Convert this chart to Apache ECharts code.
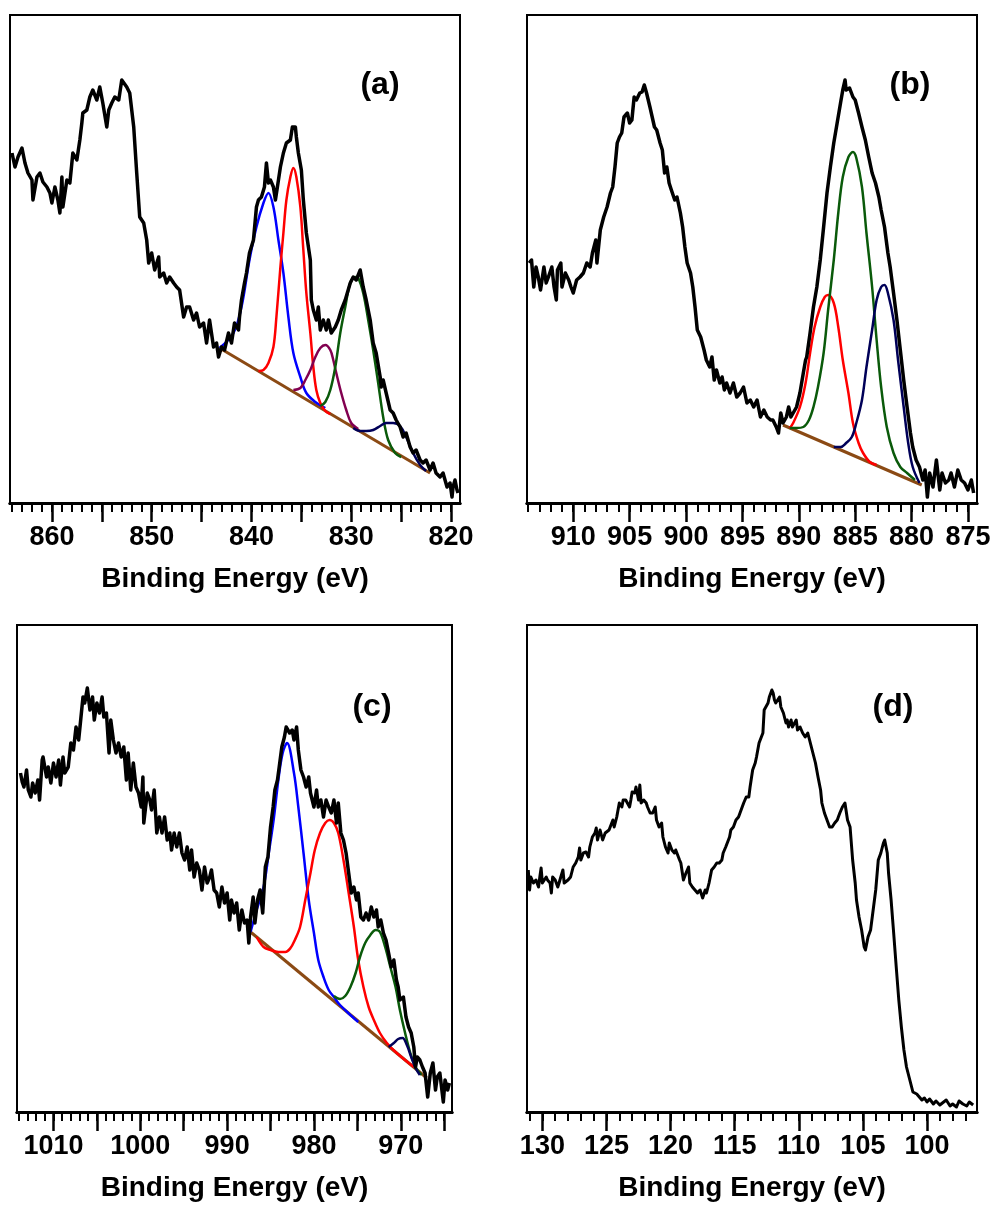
<!DOCTYPE html>
<html>
<head>
<meta charset="utf-8">
<title>XPS spectra</title>
<script src="https://cdn.jsdelivr.net/npm/echarts@6/dist/echarts.min.js"></script>
<style>
  html, body { margin: 0; padding: 0; background: #fff; }
  #chart { width: 997px; height: 1205px; }
</style>
</head>
<body>
<div id="chart"></div>
<script>
// ---------- data: [binding energy (eV), intensity (a.u.)] ----------

// (a)
var aSpectrum = [[864.0,350],[863.7,336],[863.4,346],[863.0,355],[862.7,340],[862.4,330],[862.0,323],[861.9,303],[861.5,326],[861.2,330],[860.9,321],[860.5,316],[860.2,310],[860.0,300],[859.7,316],[859.4,303],[859.2,290],[859.0,326],[858.9,296],[858.5,323],[858.2,320],[857.9,350],[857.5,343],[857.2,363],[857.0,380],[856.9,390],[856.5,393],[856.2,406],[855.9,413],[855.5,403],[855.2,416],[854.9,400],[854.5,376],[854.3,393],[854.0,400],[853.7,406],[853.3,403],[853.0,423],[852.8,425],[852.5,416],[852.2,410],[851.8,376],[851.5,330],[851.2,286],[850.8,280],[850.5,263],[850.3,240],[850.0,250],[849.7,233],[849.3,246],[849.2,226],[848.8,230],[848.5,220],[848.2,226],[847.8,220],[847.5,216],[847.2,213],[846.8,186],[846.5,196],[846.2,196],[845.8,183],[845.5,190],[845.2,176],[844.8,180],[844.5,160],[844.2,183],[843.8,156],[843.5,160],[843.3,146],[843.0,156],[842.7,153],[842.3,170],[842.0,160],[841.7,180],[841.3,173],[841.2,186],[841.0,203],[840.7,220],[840.5,230],[840.2,250],[839.8,263],[839.5,296],[839.3,303],[839.0,306],[838.7,316],[838.5,340],[838.3,320],[838.1,323],[837.8,316],[837.6,303],[837.4,316],[837.1,336],[836.8,350],[836.5,360],[836.1,363],[835.9,376],[835.6,376],[835.5,366],[835.3,350],[835.0,333],[834.8,303],[834.5,270],[834.1,243],[834.0,203],[833.8,193],[833.5,183],[833.3,196],[833.1,173],[832.8,183],[832.5,173],[832.3,183],[832.0,170],[831.6,176],[831.3,183],[831.0,193],[830.6,203],[830.1,220],[829.8,226],[829.5,223],[829.1,233],[828.8,216],[828.5,203],[828.1,183],[827.8,160],[827.5,150],[827.1,126],[827.0,116],[826.8,123],[826.5,110],[826.1,93],[825.8,90],[825.5,83],[825.1,76],[824.8,66],[824.5,70],[824.1,56],[823.8,50],[823.5,53],[823.1,43],[822.8,40],[822.5,43],[822.1,33],[821.8,40],[821.5,30],[821.1,26],[820.8,30],[820.4,16],[820.1,20],[819.9,6],[819.8,16],[819.6,23],[819.4,13],[819.3,10]];
var aBaseline = [[843.2,155],[822.1,30]];
var aPeakBlue = [[843.2,155],[841.8,170],[841.0,196],[840.2,243],[839.5,276],[838.8,300],[838.3,310],[837.8,296],[837.3,263],[836.8,230],[836.3,186],[835.8,150],[835.1,126],[834.5,110],[833.6,101],[832.6,95]];
var aPeakRed = [[839.3,132],[838.8,133],[838.3,140],[837.8,156],[837.5,186],[837.1,236],[836.8,270],[836.5,303],[836.1,326],[835.8,335],[835.5,326],[835.1,296],[834.8,253],[834.5,210],[834.1,170],[833.8,136],[833.5,113],[833.1,100],[832.6,92],[832.1,89]];
var aPeakPurple = [[835.8,113],[835.1,115],[834.6,123],[834.1,133],[833.6,146],[833.1,155],[832.6,158],[832.1,153],[831.8,143],[831.5,130],[831.0,110],[830.5,93],[830.0,80],[829.3,74]];
var aPeakGreen = [[833.1,97],[832.6,101],[832.1,113],[831.6,136],[831.1,170],[830.6,196],[830.1,220],[829.6,226],[829.3,225],[828.8,210],[828.3,183],[827.8,153],[827.3,120],[826.8,86],[826.3,63],[825.6,50],[825.0,46]];
var aPeakNavy = [[829.8,75],[829.1,72],[828.5,72],[827.8,73],[827.1,77],[826.5,80],[825.8,80],[825.1,77],[824.5,66],[823.8,50],[823.1,38],[822.5,32]];
var aMajorTicks = [820, 825, 830, 835, 840, 845, 850, 855, 860];
var aTickLabels = [820, 830, 840, 850, 860];

// (b)
var bSpectrum = [[913.9,240],[913.7,243],[913.5,216],[913.3,236],[913.1,226],[912.9,213],[912.6,236],[912.4,220],[912.2,226],[911.9,236],[911.7,216],[911.5,203],[911.4,233],[911.1,240],[911.0,216],[910.7,230],[910.4,223],[910.2,216],[910.0,210],[909.7,223],[909.4,226],[909.1,230],[908.8,240],[908.5,236],[908.3,250],[908.0,263],[907.9,240],[907.6,273],[907.3,286],[907.0,296],[906.7,310],[906.5,316],[906.3,336],[906.1,360],[905.9,366],[905.7,370],[905.5,386],[905.2,390],[905.0,380],[904.8,383],[904.6,406],[904.4,403],[904.1,410],[903.9,411],[903.7,418],[903.5,410],[903.2,396],[903.0,386],[902.8,376],[902.6,373],[902.3,360],[902.1,353],[901.9,330],[901.7,336],[901.5,320],[901.3,313],[901.0,303],[900.8,306],[900.5,290],[900.3,276],[900.1,256],[899.9,240],[899.6,230],[899.4,216],[899.2,196],[899.0,173],[898.7,166],[898.4,153],[898.2,143],[897.9,136],[897.7,146],[897.5,123],[897.3,133],[897.0,120],[896.8,126],[896.6,113],[896.4,120],[896.1,110],[895.8,120],[895.5,106],[895.2,110],[894.9,116],[894.6,100],[894.3,103],[894.0,96],[893.7,103],[893.4,86],[893.1,93],[892.8,86],[892.5,83],[892.3,83],[892.0,76],[891.8,70],[891.6,90],[891.4,80],[891.1,86],[890.9,96],[890.7,86],[890.5,90],[890.2,96],[889.9,110],[889.6,130],[889.4,143],[889.3,146],[889.0,170],[888.7,196],[888.4,216],[888.1,243],[887.8,276],[887.5,310],[887.2,336],[886.9,360],[886.6,380],[886.3,400],[886.1,413],[885.9,423],[885.8,413],[885.5,415],[885.2,406],[885.0,403],[884.7,390],[884.4,376],[884.1,363],[883.8,346],[883.5,330],[883.2,320],[882.9,306],[882.7,293],[882.4,276],[882.1,250],[881.9,236],[881.6,210],[881.3,183],[881.0,153],[880.7,123],[880.4,96],[880.1,70],[879.9,56],[879.6,43],[879.3,36],[879.0,23],[878.8,33],[878.6,6],[878.4,30],[878.1,16],[877.8,43],[877.5,13],[877.3,30],[877.0,20],[876.7,23],[876.5,30],[876.2,16],[875.9,33],[875.6,23],[875.3,20],[875.0,13],[874.7,23],[874.5,10]];
var bBaseline = [[891.4,78],[879.1,18]];
var bPeakRed = [[890.8,75],[890.5,80],[889.9,96],[889.4,120],[889.0,150],[888.6,176],[888.1,196],[887.7,206],[887.4,208],[886.9,200],[886.5,176],[886.1,143],[885.6,110],[885.2,80],[884.7,60],[884.3,50],[883.7,41],[883.1,38]];
var bPeakGreen = [[890.8,75],[890.2,75],[889.6,76],[889.1,83],[888.7,96],[888.3,116],[887.8,150],[887.4,193],[886.9,243],[886.5,290],[886.1,326],[885.6,346],[885.2,351],[884.9,345],[884.4,316],[884.0,270],[883.5,216],[883.1,163],[882.7,116],[882.2,76],[881.6,50],[881.0,36],[880.4,30],[879.7,23]];
var bPeakNavy = [[886.9,56],[886.3,56],[885.8,60],[885.3,66],[884.9,80],[884.4,103],[884.0,136],[883.5,173],[883.1,203],[882.7,216],[882.4,218],[882.1,210],[881.6,183],[881.2,143],[880.7,96],[880.3,60],[879.9,36],[879.3,20]];
var bMajorTicks = [875, 880, 885, 890, 895, 900, 905, 910];
var bTickLabels = [875, 880, 885, 890, 895, 900, 905, 910];

// (c)
var cSpectrum = [[1013.8,339],[1013.6,330],[1013.4,325],[1013.1,342],[1012.9,322],[1012.6,315],[1012.4,329],[1012.1,319],[1011.8,332],[1011.6,312],[1011.3,352],[1011.2,355],[1010.8,335],[1010.6,345],[1010.3,329],[1010.0,349],[1009.7,335],[1009.4,352],[1009.2,327],[1008.9,355],[1008.7,339],[1008.3,345],[1008.0,369],[1007.7,362],[1007.4,385],[1007.1,372],[1006.9,389],[1006.6,415],[1006.4,409],[1006.1,424],[1005.8,402],[1005.5,415],[1005.3,392],[1005.0,409],[1004.7,399],[1004.4,415],[1004.2,395],[1003.9,399],[1003.6,359],[1003.4,392],[1003.1,372],[1002.8,359],[1002.5,369],[1002.2,355],[1001.9,365],[1001.6,332],[1001.4,359],[1001.1,322],[1000.8,349],[1000.5,325],[1000.2,319],[999.9,305],[999.7,335],[999.6,289],[999.2,319],[998.9,312],[998.7,302],[998.4,322],[998.1,279],[997.8,295],[997.5,279],[997.2,295],[996.9,272],[996.6,279],[996.4,262],[996.1,279],[995.8,265],[995.5,279],[995.2,259],[994.9,252],[994.6,265],[994.3,242],[994.1,262],[993.8,235],[993.5,249],[993.2,242],[992.9,222],[992.6,245],[992.3,229],[992.0,235],[991.8,242],[991.5,222],[991.2,219],[990.9,205],[990.6,225],[990.3,209],[990.0,219],[989.7,192],[989.5,212],[989.2,199],[988.9,209],[988.6,182],[988.3,202],[988.0,189],[987.7,192],[987.5,169],[987.3,195],[987.0,215],[986.8,189],[986.5,212],[986.2,222],[985.9,199],[985.6,245],[985.3,255],[985.0,285],[984.7,305],[984.5,322],[984.2,332],[984.0,345],[983.7,365],[983.4,375],[983.2,385],[983.0,387],[982.8,379],[982.5,382],[982.3,372],[982.0,385],[981.8,362],[981.5,342],[981.2,335],[980.9,325],[980.6,335],[980.4,319],[980.0,305],[979.7,322],[979.5,305],[979.2,312],[978.9,295],[978.6,312],[978.3,305],[978.0,299],[977.7,312],[977.4,289],[977.2,309],[976.9,279],[976.6,272],[976.3,259],[976.0,239],[975.7,219],[975.4,225],[975.1,212],[974.9,219],[974.6,195],[974.3,192],[974.0,199],[973.7,192],[973.4,205],[973.1,195],[972.8,202],[972.6,185],[972.3,192],[972.0,179],[971.7,172],[971.4,159],[971.1,145],[970.8,152],[970.5,132],[970.3,125],[970.1,112],[969.7,115],[969.4,95],[969.1,85],[968.8,79],[968.5,65],[968.3,45],[968.1,55],[967.8,52],[967.5,45],[967.2,39],[966.9,15],[966.6,39],[966.3,49],[966.0,22],[965.8,35],[965.5,39],[965.1,10],[964.9,32],[964.6,22],[964.4,29]];
var cBaseline = [[987.3,180],[967.0,34]];
var cPeakBlue = [[987.3,180],[986.6,202],[985.8,225],[985.2,259],[984.6,295],[984.1,332],[983.6,359],[983.1,369],[982.3,339],[981.8,305],[981.2,259],[980.6,212],[980.0,179],[979.5,152],[978.9,135],[978.3,122],[977.7,115],[977.0,107],[975.8,97],[974.9,90]];
var cPeakRed = [[986.6,175],[985.8,165],[985.0,162],[984.1,160],[983.3,160],[982.7,164],[982.2,172],[981.6,185],[981.0,212],[980.4,239],[979.9,262],[979.3,279],[978.7,289],[978.2,292],[977.7,289],[977.2,279],[976.6,252],[976.0,219],[975.4,185],[974.9,152],[974.3,125],[973.7,105],[973.1,92],[972.4,79],[971.6,69],[970.6,60],[968.5,45]];
var cPeakGreen = [[977.7,116],[977.0,113],[976.4,116],[975.8,125],[975.2,139],[974.7,155],[974.1,169],[973.5,177],[972.9,182],[972.4,180],[971.8,165],[971.2,145],[970.6,125],[970.1,102],[969.5,79],[968.9,59],[968.3,45],[967.6,37]];
var cPeakNavy = [[971.4,65],[970.8,69],[970.3,73],[969.8,74],[969.3,67],[968.8,55],[968.3,44],[967.8,37]];
var cMajorTicks = [965, 970, 975, 980, 985, 990, 995, 1000, 1005, 1010];
var cTickLabels = [970, 980, 990, 1000, 1010];

// (d)
var dSpectrum = [[131.1,242],[131.0,222],[130.9,235],[130.7,229],[130.5,232],[130.3,225],[130.2,235],[130.1,244],[130.0,229],[129.7,235],[129.6,232],[129.4,229],[129.3,219],[129.2,235],[129.0,232],[128.8,225],[128.7,229],[128.4,242],[128.3,229],[128.0,232],[127.8,235],[127.6,245],[127.4,249],[127.2,255],[127.1,264],[127.0,252],[126.8,259],[126.6,260],[126.4,255],[126.3,265],[126.1,275],[125.9,279],[125.8,284],[125.7,272],[125.5,282],[125.3,272],[125.1,279],[125.0,277],[124.8,282],[124.5,292],[124.4,285],[124.2,295],[124.0,309],[123.8,305],[123.7,312],[123.5,312],[123.2,305],[123.1,312],[123.0,320],[122.8,319],[122.7,325],[122.5,312],[122.4,327],[122.3,309],[122.1,312],[121.9,309],[121.8,305],[121.6,299],[121.4,299],[121.2,305],[121.1,292],[120.9,285],[120.7,289],[120.6,275],[120.4,265],[120.2,259],[120.1,269],[119.9,262],[119.7,259],[119.6,262],[119.3,252],[119.2,249],[119.0,232],[118.8,239],[118.6,245],[118.5,229],[118.3,225],[118.1,222],[117.9,219],[117.7,222],[117.5,214],[117.3,222],[117.2,219],[117.0,229],[116.8,242],[116.6,245],[116.4,249],[116.2,249],[116.0,252],[115.9,259],[115.7,265],[115.4,275],[115.3,282],[115.1,285],[114.9,292],[114.7,295],[114.5,302],[114.3,309],[114.1,315],[113.9,315],[113.8,325],[113.6,342],[113.4,349],[113.3,355],[113.1,369],[112.8,379],[112.7,402],[112.4,409],[112.3,415],[112.1,422],[112.0,419],[111.9,412],[111.8,409],[111.5,415],[111.4,405],[111.2,399],[111.0,389],[110.9,392],[110.8,385],[110.6,392],[110.5,385],[110.2,392],[110.1,382],[109.9,385],[109.7,379],[109.5,375],[109.3,379],[109.1,369],[108.9,359],[108.7,349],[108.5,335],[108.3,322],[108.2,309],[108.0,299],[107.8,292],[107.6,285],[107.4,285],[107.2,289],[107.0,292],[106.8,299],[106.6,305],[106.4,309],[106.2,292],[106.0,285],[105.8,252],[105.6,229],[105.5,212],[105.3,195],[105.1,182],[104.9,165],[104.8,162],[104.6,175],[104.4,182],[104.2,202],[104.0,222],[103.8,252],[103.6,259],[103.4,269],[103.3,272],[103.1,259],[103.0,239],[102.8,212],[102.6,179],[102.4,145],[102.2,112],[102.0,85],[101.8,62],[101.6,45],[101.4,35],[101.2,25],[101.1,20],[100.8,18],[100.6,15],[100.4,12],[100.2,14],[100.0,10],[99.8,13],[99.5,8],[99.3,11],[99.0,7],[98.8,9],[98.5,12],[98.2,6],[98.0,8],[97.7,5],[97.5,11],[97.2,8],[96.9,6],[96.7,10],[96.4,7]];
var dMajorTicks = [100, 105, 110, 115, 120, 125, 130];
var dTickLabels = [100, 105, 110, 115, 120, 125, 130];

// ---------- look ----------
var FONT = '"Liberation Sans", Arial, Helvetica, sans-serif';
var COL = {
  blue: '#0000ff', red: '#ff0000', purple: '#820050',
  green: '#0a5a0a', navy: '#000058', base: '#8b4a14'
};

// every 1 eV, used for the short ticks only
function unitTicks(from, to) {
  var r = [];
  for (var v = from; v <= to; v++) r.push(v);
  return r;
}

var panels = [
  { tag: '(a)', tagX: 380, tagY: 85, left: 10, top: 15, width: 450, height: 488,
    min: 819.1, max: 864.2, major: aMajorTicks, labels: aTickLabels, minor: unitTicks(820, 864),
    base: aBaseline, spec: aSpectrum, specWidth: 3.5,
    peaks: [[aPeakBlue, COL.blue], [aPeakRed, COL.red], [aPeakPurple, COL.purple], [aPeakGreen, COL.green], [aPeakNavy, COL.navy]] },
  { tag: '(b)', tagX: 910, tagY: 85, left: 527, top: 15, width: 450, height: 488,
    min: 874.2, max: 914.1, major: bMajorTicks, labels: bTickLabels, minor: unitTicks(875, 914),
    base: bBaseline, spec: bSpectrum, specWidth: 3.5,
    peaks: [[bPeakRed, COL.red], [bPeakGreen, COL.green], [bPeakNavy, COL.navy]] },
  { tag: '(c)', tagX: 372, tagY: 707, left: 17, top: 625, width: 435, height: 487,
    min: 964.1, max: 1014.2, major: cMajorTicks, labels: cTickLabels, minor: unitTicks(965, 1014),
    base: cBaseline, spec: cSpectrum, specWidth: 3.5,
    peaks: [[cPeakBlue, COL.blue], [cPeakRed, COL.red], [cPeakGreen, COL.green], [cPeakNavy, COL.navy]] },
  { tag: '(d)', tagX: 893, tagY: 707, left: 527, top: 625, width: 450, height: 487,
    min: 96.1, max: 131.2, major: dMajorTicks, labels: dTickLabels, minor: unitTicks(97, 131),
    base: null, spec: dSpectrum, specWidth: 3, peaks: [] }
];

var grids = [], xAxes = [], yAxes = [], series = [], graphics = [];

panels.forEach(function (p, i) {
  grids.push({
    left: p.left, top: p.top, width: p.width, height: p.height,
    show: true, borderColor: '#000', borderWidth: 2, containLabel: false, outerBoundsMode: 'none'
  });

  // short ticks (1 eV)
  xAxes.push({
    type: 'value', gridIndex: i, min: p.min, max: p.max, inverse: true, position: 'bottom',
    axisLine: { show: true, onZero: false, lineStyle: { color: '#000', width: 3 } },
    axisTick: { show: true, length: 9, customValues: p.minor, lineStyle: { color: '#000', width: 2 } },
    axisLabel: { show: false },
    splitLine: { show: false }
  });
  // long ticks (5 eV), labels and name
  xAxes.push({
    type: 'value', gridIndex: i, min: p.min, max: p.max, inverse: true, position: 'bottom',
    axisLine: { show: true, onZero: false, lineStyle: { color: '#000', width: 3 } },
    axisTick: { show: true, length: 19, customValues: p.major, lineStyle: { color: '#000', width: 2.5 } },
    axisLabel: {
      customValues: p.labels, margin: 21, color: '#000',
      fontFamily: FONT, fontSize: 27, fontWeight: 'bold',
      formatter: function (v) { return String(Math.round(v)); }
    },
    splitLine: { show: false },
    name: 'Binding Energy (eV)', nameLocation: 'middle', nameGap: 62, nameMoveOverlap: false,
    nameTextStyle: { color: '#000', fontFamily: FONT, fontSize: 28, fontWeight: 'bold' }
  });
  yAxes.push({ type: 'value', gridIndex: i, min: 0, max: p.height, show: false });

  var xi = 2 * i + 1;
  if (p.base) {
    series.push({
      type: 'line', xAxisIndex: xi, yAxisIndex: i, data: p.base,
      symbol: 'none', lineStyle: { color: COL.base, width: 3 }
    });
  }
  p.peaks.forEach(function (pk) {
    series.push({
      type: 'line', xAxisIndex: xi, yAxisIndex: i, data: pk[0],
      symbol: 'none', smooth: 0.35, lineStyle: { color: pk[1], width: 2.5 }
    });
  });
  series.push({
    type: 'line', xAxisIndex: xi, yAxisIndex: i, data: p.spec,
    symbol: 'none', lineStyle: { color: '#000', width: p.specWidth, join: 'round' }
  });

  graphics.push({
    type: 'text', x: p.tagX, y: p.tagY,
    style: { text: p.tag, fill: '#000', font: 'bold 32px ' + FONT, align: 'center', verticalAlign: 'middle' }
  });
});

var myChart = echarts.init(document.getElementById('chart'), null, { renderer: 'canvas' });
myChart.setOption({
  animation: false,
  backgroundColor: '#fff',
  grid: grids,
  xAxis: xAxes,
  yAxis: yAxes,
  series: series,
  graphic: graphics
});
</script>
</body>
</html>
